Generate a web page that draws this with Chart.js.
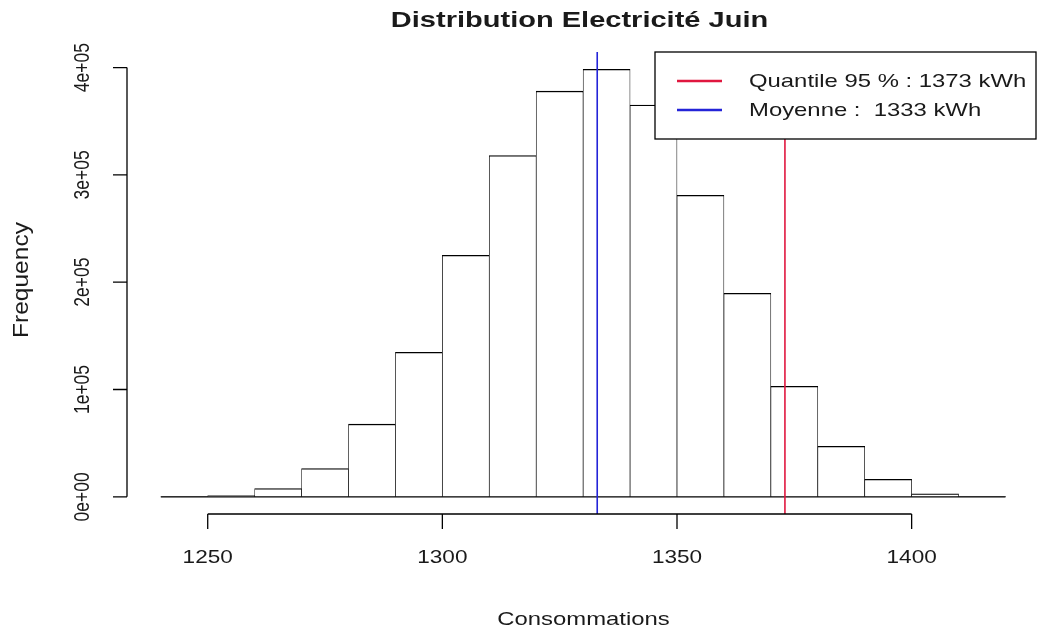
<!DOCTYPE html>
<html>
<head>
<meta charset="utf-8">
<script src="https://cdn.jsdelivr.net/npm/chart.js@4.4.1/dist/chart.umd.min.js"></script>
<style>
html,body{margin:0;padding:0;background:#fff;overflow:hidden;}
#wrap{width:1037px;height:639px;position:relative;}
</style>
</head>
<body>
<div id="wrap"><canvas id="c" width="1037" height="639"></canvas></div>
<script>
// ---- data ----
const binStarts = [1240,1250,1260,1270,1280,1290,1300,1310,1320,1330,1340,1350,1360,1370,1380,1390,1400,1410];
const binWidth = 10;
const counts = [150,1200,7700,26400,67700,134700,225000,318000,378000,398400,365000,281000,189700,103000,47000,16300,2800,500];
const xTicks = [1250,1300,1350,1400];
const yTicks = [0,100000,200000,300000,400000];
const yTickLabels = ['0e+00','1e+05','2e+05','3e+05','4e+05'];
const meanValue = 1333;
const quantileValue = 1373;
const legendLabels = ['Quantile 95 % : 1373 kWh','Moyenne :  1333 kWh'];
const titleText = 'Distribution Electricité Juin';
const xLabel = 'Consommations';
const yLabel = 'Frequency';

// ---- styles ----
const FONT = '"Liberation Sans", Arial, sans-serif';
const SX = 1.29; // horizontal stretch of the reference picture
const TEXT_COLOR = '#1a1a1a';
const RED = '#e0173f';
const BLUE = '#2424d8';

function stretchedText(ctx, text, x, y, font, align, rot, lenScale) {
  ctx.save();
  ctx.translate(x, y);
  if (rot) { ctx.rotate(rot); ctx.scale(lenScale || 1, SX); } else { ctx.scale(SX * (lenScale || 1), 1); }
  ctx.font = font;
  ctx.fillStyle = TEXT_COLOR;
  ctx.textAlign = align || 'center';
  ctx.textBaseline = 'middle';
  ctx.fillText(text, 0, 0);
  ctx.restore();
}

const decor = {
  id: 'decor',
  afterDatasetsDraw(chart) {
    const ctx = chart.ctx;
    const xs = chart.scales.x, ys = chart.scales.y;
    const area = chart.chartArea;
    ctx.save();
    // baseline of histogram rectangles
    ctx.strokeStyle = '#000';
    ctx.lineWidth = 1.3;
    const y0 = ys.getPixelForValue(0);
    ctx.beginPath();
    ctx.moveTo(xs.getPixelForValue(binStarts[0]), y0);
    ctx.lineTo(xs.getPixelForValue(binStarts[binStarts.length-1] + binWidth), y0);
    ctx.stroke();

    // vertical reference lines
    ctx.lineWidth = 1.6;
    [[quantileValue, RED],[meanValue, BLUE]].forEach(([v,col]) => {
      const px = xs.getPixelForValue(v);
      ctx.strokeStyle = col;
      ctx.beginPath();
      ctx.moveTo(px, area.top);
      ctx.lineTo(px, area.bottom);
      ctx.stroke();
    });

    // x axis
    ctx.strokeStyle = '#000';
    ctx.lineWidth = 1.3;
    const ax = area.bottom;
    ctx.beginPath();
    ctx.moveTo(xs.getPixelForValue(xTicks[0]), ax);
    ctx.lineTo(xs.getPixelForValue(xTicks[xTicks.length-1]), ax);
    xTicks.forEach(t => {
      const px = xs.getPixelForValue(t);
      ctx.moveTo(px, ax);
      ctx.lineTo(px, ax + 15);
    });
    ctx.stroke();
    xTicks.forEach(t => {
      stretchedText(ctx, String(t), xs.getPixelForValue(t), ax + 44, '17.5px ' + FONT, 'center');
    });

    // y axis
    const ay = area.left;
    ctx.beginPath();
    ctx.moveTo(ay, ys.getPixelForValue(yTicks[0]));
    ctx.lineTo(ay, ys.getPixelForValue(yTicks[yTicks.length-1]));
    yTicks.forEach(t => {
      const py = ys.getPixelForValue(t);
      ctx.moveTo(ay, py);
      ctx.lineTo(ay - 14, py);
    });
    ctx.stroke();
    yTicks.forEach((t,i) => {
      stretchedText(ctx, yTickLabels[i], ay - 44, ys.getPixelForValue(t), '17.5px ' + FONT, 'center', -Math.PI/2);
    });

    // axis titles and main title
    const cx = (area.left + area.right) / 2;
    stretchedText(ctx, xLabel, cx + 2, ax + 106, '18.5px ' + FONT, 'center');
    stretchedText(ctx, yLabel, 22, (area.top + area.bottom) / 2 - 3, '17.5px ' + FONT, 'center', -Math.PI/2, 1.4);
    stretchedText(ctx, titleText, cx - 2, 21, 'bold 22.5px ' + FONT, 'center');

    // legend (top right, white box)
    const bx = 655, by = area.top, bw = area.right - bx, bh = 87;
    ctx.fillStyle = '#fff';
    ctx.fillRect(bx, by, bw, bh);
    ctx.strokeStyle = '#000';
    ctx.lineWidth = 1.3;
    ctx.strokeRect(bx, by, bw, bh);
    [[RED, 29],[BLUE, 58]].forEach(([col, dy], i) => {
      ctx.strokeStyle = col;
      ctx.lineWidth = 2.6;
      ctx.beginPath();
      ctx.moveTo(bx + 22, by + dy);
      ctx.lineTo(bx + 67, by + dy);
      ctx.stroke();
      stretchedText(ctx, legendLabels[i], bx + 94, by + dy + 1, '18.5px ' + FONT, 'left');
    });
    ctx.restore();
  }
};

new Chart(document.getElementById('c'), {
  type: 'bar',
  data: {
    datasets: [{
      data: binStarts.map((b,i) => ({x: b + binWidth/2, y: counts[i]})),
      backgroundColor: '#ffffff',
      borderColor: '#000000',
      borderWidth: {top: 1.3, left: 0.7, right: 0.7, bottom: 0},
      borderSkipped: 'start',
      barPercentage: 1,
      categoryPercentage: 1
    }]
  },
  plugins: [decor],
  options: {
    responsive: false,
    animation: false,
    events: [],
    layout: { padding: { left: 127, top: 52, right: 1, bottom: 125 } },
    plugins: { legend: { display: false }, title: { display: false }, tooltip: { enabled: false } },
    scales: {
      x: { type: 'linear', offset: false, min: 1232.8, max: 1426.5, display: false, ticks: { stepSize: 50 }, grid: { display: false, offset: false } },
      y: { type: 'linear', min: -16000, max: 414500, display: false, grid: { display: false } }
    }
  }
});
</script>
</body>
</html>
